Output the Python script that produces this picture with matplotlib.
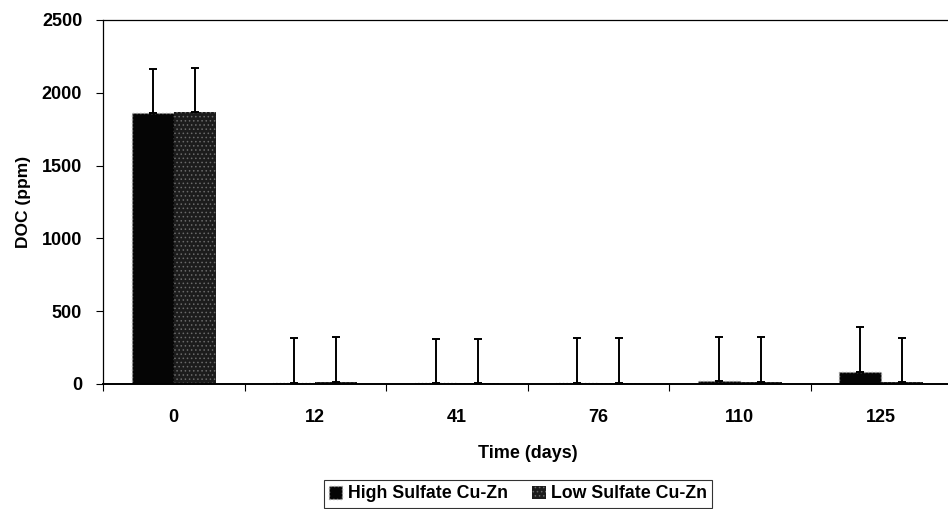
import matplotlib
matplotlib.use("Agg")
import matplotlib.pyplot as plt
import numpy as np

plt.rcParams['font.family'] = ['Liberation Sans', 'DejaVu Sans']
plt.rcParams['font.weight'] = 'bold'
plt.rcParams['hatch.linewidth'] = 0.6

# Data
days = ["0", "12", "41", "76", "110", "125"]
high_doc = [1861, 10, 8, 8, 18, 80]
low_doc = [1868, 15, 10, 10, 12, 15]
high_err = [302, 306, 301, 308, 305, 311]
low_err = [302, 305, 299, 306, 311, 301]

W, H = 948, 509
fig = plt.figure(figsize=(W / 100, H / 100), dpi=100)
ax = fig.add_axes([103 / W, 1 - 384 / H, 849 / W, 364 / H])

x = np.arange(len(days))
bw = 0.297
fs = 12.5

ax.bar(x - bw / 2, high_doc, bw, color='#050505', edgecolor='#a0a0a0',
       linewidth=1.0, linestyle=':', label='High Sulfate Cu-Zn', zorder=2)
ax.bar(x + bw / 2, low_doc, bw, color='#1c1c1c', edgecolor='#6a6a6a',
       hatch='....', linewidth=0, label='Low Sulfate Cu-Zn', zorder=2)

ax.errorbar(x - bw / 2, high_doc, yerr=[np.zeros(len(x)), high_err], fmt='none',
            ecolor='black', elinewidth=1.4, capsize=3.2, capthick=1.4, zorder=3)
ax.errorbar(x + bw / 2, low_doc, yerr=[np.zeros(len(x)), low_err], fmt='none',
            ecolor='black', elinewidth=1.4, capsize=3.2, capthick=1.4, zorder=3)

ax.set_xlim(-0.5, len(days) - 0.5)
ax.set_ylim(0, 2500)
ax.set_yticks([0, 500, 1000, 1500, 2000, 2500])
ax.set_xticks(x)
ax.set_xticklabels(days)
ax.set_xticks(np.arange(-0.5, len(days), 1.0), minor=True)
ax.tick_params(axis='x', which='major', length=0, pad=18, labelsize=13)
ax.tick_params(axis='x', which='minor', length=5, width=0.8, direction='out')
ax.tick_params(axis='y', length=5, width=0.8, direction='out', pad=10, labelsize=13)

for s in ax.spines.values():
    s.set_linewidth(0.9)
    s.set_color('black')
ax.spines['bottom'].set_linewidth(1.4)

ax.set_ylabel('DOC (ppm)', fontsize=fs, fontweight='bold', labelpad=8)
ax.set_xlabel('Time (days)', fontsize=13, fontweight='bold', labelpad=14)

leg = fig.legend(loc='center', bbox_to_anchor=(518 / W, 1 - 494 / H), ncol=2,
                 frameon=True, fancybox=False, edgecolor='black',
                 fontsize=12.8, handlelength=0.75, handleheight=0.75,
                 handletextpad=0.3, columnspacing=1.4, borderpad=0.3,
                 borderaxespad=0.2)
leg.get_frame().set_linewidth(0.8)

fig.savefig('out.png', dpi=100)
